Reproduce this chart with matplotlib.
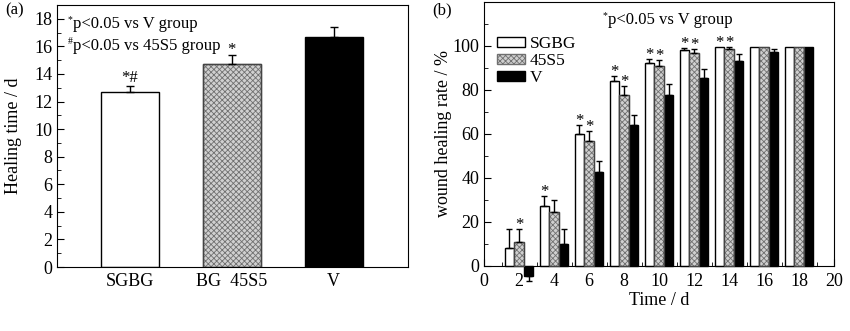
import matplotlib
matplotlib.use("Agg")
import matplotlib.pyplot as plt
import numpy as np

plt.rcParams['font.family'] = ['Liberation Serif', 'DejaVu Serif']
plt.rcParams['mathtext.fontset'] = 'stix'
plt.rcParams['hatch.linewidth'] = 0.6

# ---- panel (a) data ----
groups_a = ["SGBG", "BG  45S5", "V"]
heal_time = [12.7, 14.7, 16.7]
heal_err = [0.4, 0.7, 0.7]
marks_a = ["*#", "*", ""]

# ---- panel (b) data ----
days = [2, 4, 6, 8, 10, 12, 14, 16, 18]
sgbg = [8.2, 27.2, 60.1, 84.1, 92.1, 98.0, 99.7, 99.7, 99.7]
sgbg_err = [8.4, 4.7, 3.8, 2.2, 2.0, 1.2, 0.0, 0.0, 0.0]
s45 = [10.6, 24.4, 56.6, 77.6, 90.8, 97.0, 98.8, 99.7, 99.7]
s45_err = [6.0, 5.4, 4.6, 4.2, 2.7, 1.5, 0.7, 0.0, 0.0]
vgrp = [-4.7, 9.9, 42.5, 64.0, 77.7, 85.6, 93.0, 97.3, 99.7]
vgrp_err = [-2.3, 6.7, 5.2, 4.7, 4.9, 3.9, 3.2, 1.5, 0.0]
star_sgbg = [False, True, True, True, True, True, True, False, False]
star_s45 = [True, False, True, True, True, True, True, False, False]

fig = plt.figure(figsize=(8.5, 3.31), dpi=100)

GRAY_FACE = '#d0d0d0'
HATCH_COL = '#707070'


def note(x_px, y_px, sup, body):
    """Text with a small superscript mark, positioned in figure pixels."""
    fig.text(x_px/850, 1-(y_px-4)/331, sup, fontsize=7, ha='left', va='center')
    fig.text((x_px+5)/850, 1-y_px/331, body, fontsize=12, ha='left', va='center')


def mark(ax, x, y, s, dy=-3):
    ax.annotate(s, (x, y), xytext=(0, dy), textcoords='offset points',
                ha='center', va='bottom', fontsize=12, annotation_clip=False)


# ================= panel (a) =================
ax1 = fig.add_axes([57/850, 1-267/331, 351/850, 262/331])
xa = np.arange(1, len(groups_a)+1)
faces = ['white', GRAY_FACE, 'black']
hatches = [None, 'xxxxxx', None]
for x, v, e, fc, h in zip(xa, heal_time, heal_err, faces, hatches):
    ax1.bar(x, v, width=0.57, color=fc, edgecolor=HATCH_COL if h else 'black',
            linewidth=1.0, hatch=h, zorder=2)
    if h:
        ax1.bar(x, v, width=0.57, color='none', edgecolor='#444444', linewidth=1.0, zorder=3)
    ax1.errorbar(x, v, yerr=[[0], [e]], fmt='none', ecolor='black', elinewidth=1.0,
                 capsize=3, capthick=1.0, zorder=4)
for x, v, e, m in zip(xa, heal_time, heal_err, marks_a):
    if m:
        mark(ax1, x, v + e, m, dy=0 if len(m) > 1 else -2.5)
ax1.set_xlim(0.284, 3.73)
ax1.set_ylim(0, 19)
ax1.set_yticks(np.arange(0, 19, 2))
ax1.set_yticks(np.arange(1, 19, 2), minor=True)
ax1.set_xticks(xa)
ax1.set_xticklabels(groups_a)
ax1.tick_params(axis='x', length=0, pad=4, labelsize=13)
ax1.tick_params(axis='y', which='both', direction='in', labelsize=13)
ax1.tick_params(axis='y', which='major', length=5)
ax1.tick_params(axis='y', which='minor', length=3)
ax1.set_ylabel('Healing time / d', fontsize=13, labelpad=9)
note(68, 24, '*', 'p<0.05 vs V group')
note(68, 46, '#', 'p<0.05 vs 45S5 group')
fig.text(5/850, 1-10/331, '(a)', fontsize=12, ha='left', va='center')

# ================= panel (b) =================
ax2 = fig.add_axes([484/850, 1-265.7/331, 350/850, 263.7/331])
d = np.array(days, dtype=float)
w = 0.55
off = 0.55
series = [
    (sgbg, sgbg_err, 'white', None, 'black', 'SGBG', -off),
    (s45, s45_err, GRAY_FACE, 'xxxxxx', HATCH_COL, '45S5', 0.0),
    (vgrp, vgrp_err, 'black', None, 'black', 'V', off),
]
handles = []
for vals, errs, fc, h, ec, lab, o in series:
    bars = ax2.bar(d + o, vals, width=w, color=fc, edgecolor=ec, hatch=h,
                   linewidth=1.0, zorder=2, clip_on=False, label=lab)
    if h:
        ax2.bar(d + o, vals, width=w, color='none', edgecolor='#444444',
                linewidth=0.9, zorder=3, clip_on=False)
    handles.append(bars)
    for xi, v, e in zip(d + o, vals, errs):
        if e != 0:
            eb = ax2.errorbar(xi, v, yerr=[[0], [e]] if e > 0 else [[-e], [0]],
                              fmt='none', ecolor='black', elinewidth=1.0,
                              capsize=2.5, capthick=1.0, zorder=4)
            for art in eb.get_children():
                art.set_clip_on(False)
for xi, v, e, s in zip(d - off, sgbg, sgbg_err, star_sgbg):
    if s:
        mark(ax2, xi, v + e, '*')
for xi, v, e, s in zip(d, s45, s45_err, star_s45):
    if s:
        mark(ax2, xi, v + e, '*')

ax2.set_xlim(0, 20)
ax2.set_ylim(0, 120)
ax2.set_xticks(np.arange(0, 21, 2))
ax2.set_xticks(np.arange(1, 20, 2), minor=True)
ax2.set_yticks(np.arange(0, 101, 20))
ax2.set_yticks(np.arange(10, 120, 20), minor=True)
ax2.tick_params(axis='both', which='both', direction='in', labelsize=13)
ax2.tick_params(axis='both', which='major', length=5)
ax2.tick_params(axis='both', which='minor', length=3)
ax2.tick_params(axis='x', pad=5)
ax2.set_xlabel('Time / d', fontsize=13, labelpad=2)
ax2.set_ylabel('wound healing rate / %', fontsize=13, labelpad=0)
note(603, 20, '*', 'p<0.05 vs V group')
leg = ax2.legend(handles=handles, loc='upper left', bbox_to_anchor=(0.037, 0.87),
                 frameon=False, fontsize=12.5, handlelength=1.6, handleheight=0.55,
                 labelspacing=0.05, handletextpad=0.3, borderaxespad=0.0,
                 borderpad=0.0)
fig.text(432/850, 1-10/331, '(b)', fontsize=12, ha='left', va='center')

fig.savefig('out.png', dpi=100)
